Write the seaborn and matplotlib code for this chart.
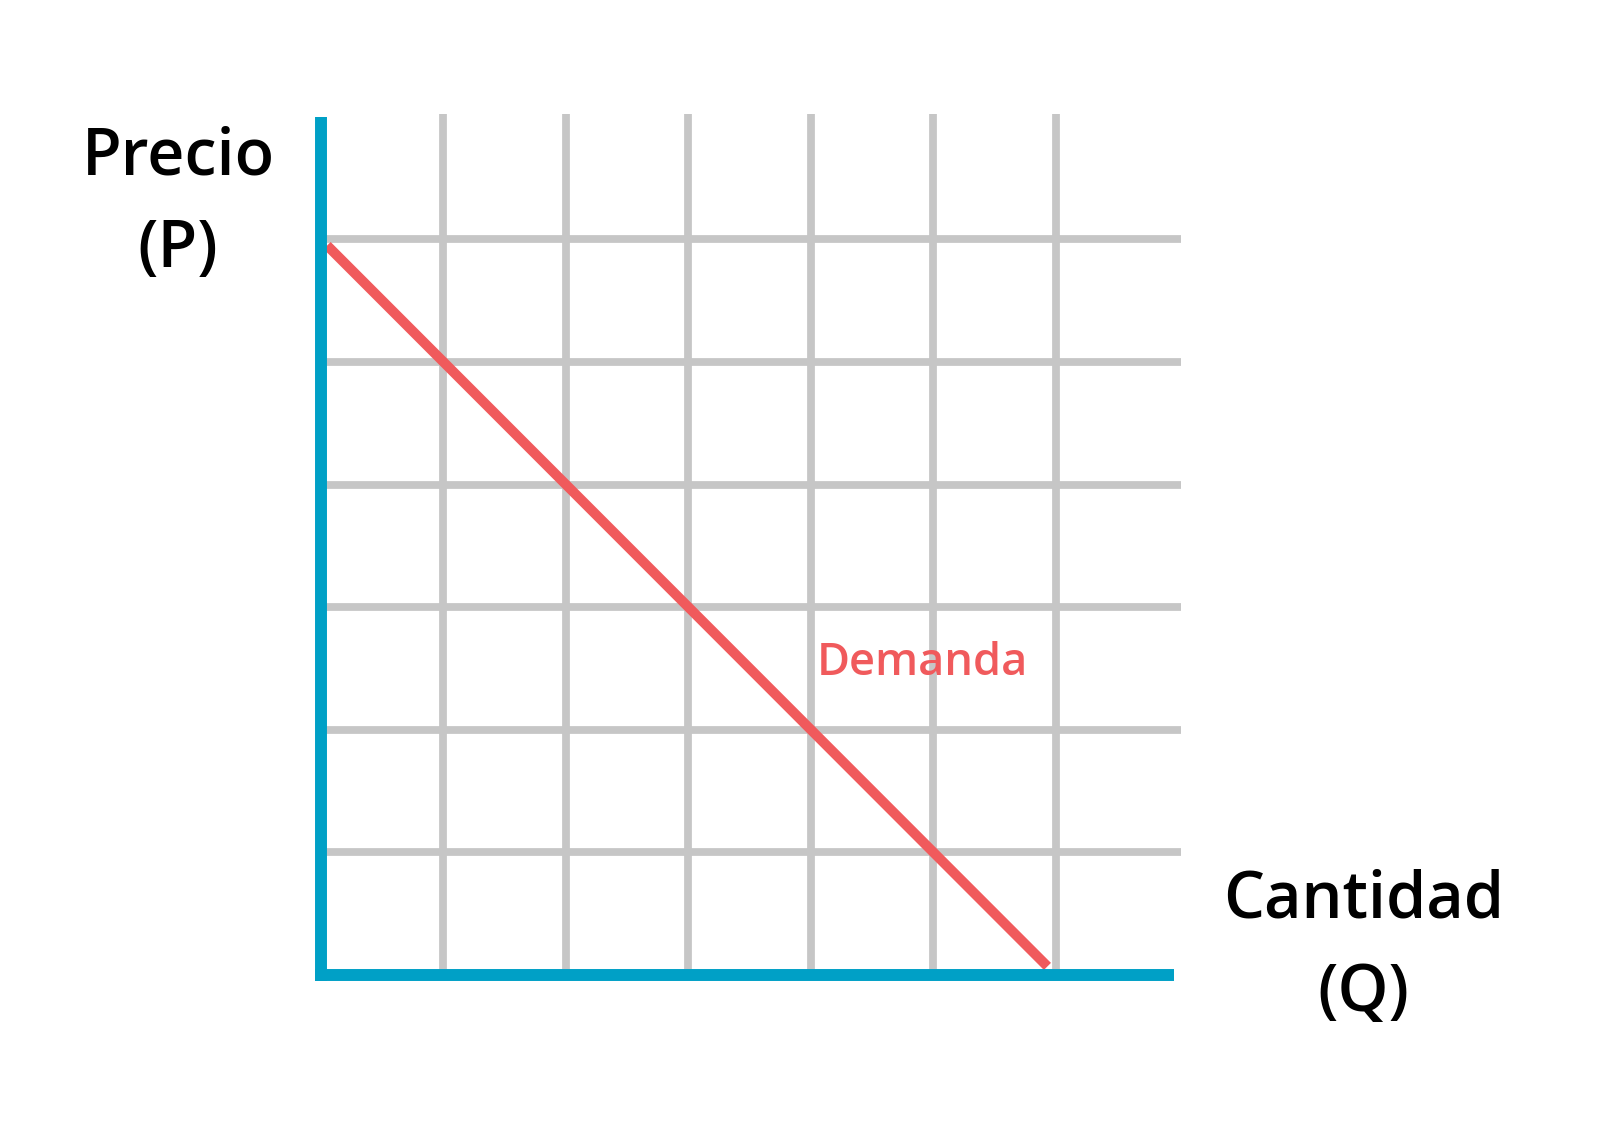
import matplotlib
matplotlib.use("Agg")
import matplotlib.pyplot as plt
import seaborn as sns
import pandas as pd

# ---- data ----
grid_levels = [1, 2, 3, 4, 5, 6]
axis_max = 7
demand_q = [0.05, 5.93]
demand_p = [5.95, 0.07]
y_label_lines = ["Precio", "(P)"]
x_label_lines = ["Cantidad", "(Q)"]
curve_label = "Demanda"

BLUE = "#00A0C6"
GREY = "#C6C6C6"
RED = "#F05A5C"

sns.set_theme(style="white")
plt.rcParams['font.family'] = ['Open Sans', 'DejaVu Sans']

fig = plt.figure(figsize=(16, 11.42), dpi=100)
ax = fig.add_axes([0, 0, 1, 1])
ax.set_xlim(-321 / 122.5, (1600 - 321) / 122.5)
ax.set_ylim(-167 / 122.6, (1142 - 167) / 122.6)
ax.axis("off")

# grid
ax.hlines(grid_levels, 0, axis_max + 0.02, colors=GREY, linewidth=5.6, capstyle="butt", zorder=1)
ax.vlines(grid_levels, 0, axis_max + 0.02, colors=GREY, linewidth=5.6, capstyle="butt", zorder=1)

# demand
df = pd.DataFrame({"Q": demand_q, "P": demand_p})
sns.lineplot(data=df, x="Q", y="P", ax=ax, color=RED, linewidth=7.2, zorder=3,
             solid_capstyle="butt", estimator=None, sort=False)

# axes
ax.vlines([0], -0.045, axis_max, colors=BLUE, linewidth=8.6, capstyle="butt", zorder=4)
ax.hlines([0], -0.045, axis_max - 0.04, colors=BLUE, linewidth=8.6, capstyle="butt", zorder=4)

kw = dict(ha="center", va="center", fontsize=46.5, fontweight="semibold", color="black")
ax.text(-1.167, 6.66, y_label_lines[0], **kw)
ax.text(-1.167, 5.91, y_label_lines[1], **kw)
ax.text(8.51, 0.605, x_label_lines[0], **kw)
ax.text(8.51, -0.16, x_label_lines[1], **kw)
ax.text(4.91, 2.54, curve_label, ha="center", va="center", fontsize=32.5,
        fontweight="semibold", color=RED, zorder=5)

fig.savefig("out.png", dpi=100, facecolor="white")
